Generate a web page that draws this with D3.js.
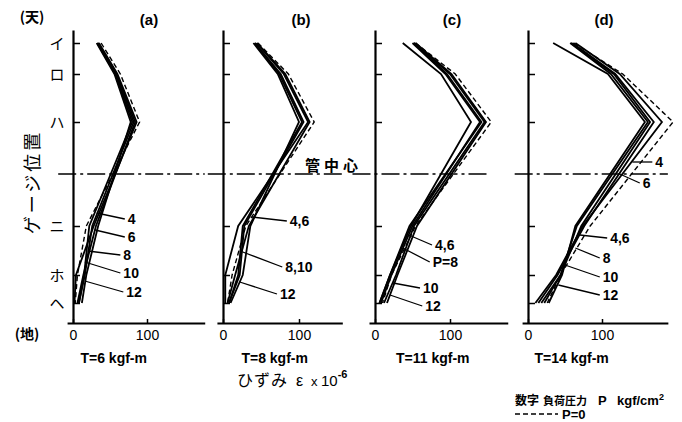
<!DOCTYPE html>
<html>
<head>
<meta charset="utf-8" />
<script src="https://d3js.org/d3.v7.min.js"></script>
<style>
  body { margin: 0; background: #fff; }
  text { font-family: "Liberation Sans", Arial, sans-serif; fill: #000; }
  .jp { font-family: "Noto Sans CJK JP", sans-serif; }
</style>
</head>
<body>
<svg id="chart"></svg>
<script>
// ---- data ----
const panels = ["(a)", "(b)", "(c)", "(d)"];
const torques = ["T=6 kgf-m", "T=8 kgf-m", "T=11 kgf-m", "T=14 kgf-m"];
const gauges = ["イ", "ロ", "ハ", "ニ", "ホ", "ヘ"];
const gaugeHeight = [280, 249, 201, 97, 48, 20];   // height above ground (地 = 0, 天 = 293)
const centerHeight = 149;                            // 管中心
const topHeight = 293;
const pressures = [0, 4, 6, 8, 10, 12];              // P kgf/cm2, P=0 is dashed
const xTicks = [0, 100];
const axisMax = [178, 157, 177, 189];

// strain x10^-6 at イ ロ ハ ニ ホ ヘ, one row per pressure
const strainA = [
  [38, 64, 90, 18, 6, 3],
  [35, 60, 86, 28, 4, 2],
  [34, 59, 84, 31, 14, 6],
  [33, 58, 82, 26, 16, 8],
  [33, 57, 80, 22, 15, 8],
  [32, 56, 78, 34, 18, 12]
];
const strainB = [
  [46, 86, 120, 30, 12, 6],
  [44, 80, 112, 20, 3, 3],
  [45, 82, 114, 34, 16, 6],
  [42, 76, 106, 28, 22, 8],
  [42, 74, 104, 26, 20, 8],
  [40, 72, 100, 36, 26, 10]
];
const strainC = [
  [54, 107, 155, 54, 22, 10],
  [37, 88, 128, 48, 20, 6],
  [50, 94, 140, 50, 22, 8],
  [52, 96, 142, 46, 20, 6],
  [52, 100, 146, 52, 28, 12],
  [54, 102, 148, 56, 30, 16]
];
const strainD = [
  [62, 128, 196, 84, 44, 26],
  [64, 124, 181, 74, 38, 10],
  [60, 118, 170, 76, 40, 14],
  [58, 116, 165, 72, 44, 18],
  [57, 112, 162, 66, 44, 22],
  [34, 108, 158, 64, 46, 28]
];
const strains = [strainA, strainB, strainC, strainD];

// pressure labels: [text, from strain, from height, to strain, to height]
const notesA = [["4", 32, 110, 70, 104], ["6", 30, 93, 70, 86], ["8", 20, 72, 64, 68],
                ["10", 16, 61, 64, 50], ["12", 16, 42, 68, 31]];
const notesB = [["4,6", 38, 106, 84, 102], ["8,10", 26, 71, 78, 56], ["12", 22, 41, 71, 29]];
const notesC = [["4,6", 45, 88, 76, 78], ["P=8", 37, 75, 73, 61], ["10", 24, 40, 60, 35],
                ["12", 20, 28, 63, 17]];
const notesD = [["4", 141, 161, 168, 161], ["6", 124, 149, 151, 140], ["4,6", 70, 88, 107, 85],
                ["8", 64, 75, 97, 65], ["10", 50, 58, 97, 46], ["12", 41, 38, 97, 28]];
const notes = [notesA, notesB, notesC, notesD];

// ---- layout ----
const W = 682, H = 422;
const axisX = [73, 223, 375, 528];
const x100 = [147, 299, 450, 602];
const centerSpan = [[-20, 178], [-20, 160], [-30, 150], [-18, 189]];
const torqueAt = [55, 68, 77, 59];   // strain under which each T label is centred

const svg = d3.select("#chart").attr("width", W).attr("height", H);
svg.append("rect").attr("width", W).attr("height", H).attr("fill", "#fff");

const y = d3.scaleLinear().domain([0, topHeight]).range([323, 30]);

const line = d3.line().x(d => d[0]).y(d => d[1]);

panels.forEach(function (name, i) {
  const x = d3.scaleLinear().domain([0, 100]).range([axisX[i], x100[i]]);
  const g = svg.append("g");

  // x axis
  const xa = d3.scaleLinear().domain([-8, axisMax[i]]).range([x(-8), x(axisMax[i])]);
  const gx = g.append("g").attr("transform", "translate(0," + y(0) + ")")
    .call(d3.axisBottom(xa).tickValues(xTicks).tickSize(-4).tickSizeOuter(0).tickPadding(7));
  gx.select(".domain").attr("stroke-width", 2.2);
  gx.selectAll(".tick line").attr("stroke-width", 1.5);
  gx.selectAll(".tick text").style("font-size", "14px").style("font-family", "Liberation Sans, Arial, sans-serif");

  // y axis
  const gy = g.append("g").attr("transform", "translate(" + x(0) + ",0)")
    .call(d3.axisRight(y).tickValues(gaugeHeight).tickSize(7).tickSizeOuter(0).tickFormat(""));
  gy.select(".domain").attr("stroke-width", 2.2);
  gy.selectAll(".tick line").attr("stroke-width", 1.5);

  // pipe centre line
  g.append("line")
    .attr("x1", x(centerSpan[i][0])).attr("x2", x(centerSpan[i][1]))
    .attr("y1", y(centerHeight)).attr("y2", y(centerHeight))
    .attr("stroke", "#000").attr("stroke-width", 1.6)
    .attr("stroke-dasharray", "18,4,3,4");

  // strain lines, solid first, dashed P=0 on top
  const rows = strains[i];
  for (let p = rows.length - 1; p >= 0; p--) {
    const pts = rows[p].map((v, k) => [x(v), y(gaugeHeight[k])]);
    g.append("path").attr("d", line(pts))
      .attr("fill", "none").attr("stroke", "#000")
      .attr("stroke-width", pressures[p] === 0 ? 1.4 : 1.8)
      .attr("stroke-dasharray", pressures[p] === 0 ? "5,3" : null)
      .attr("stroke-linejoin", "miter");
  }

  // pressure labels with leaders
  notes[i].forEach(function (n) {
    g.append("line")
      .attr("x1", x(n[1])).attr("y1", y(n[2]))
      .attr("x2", x(n[3])).attr("y2", y(n[4]))
      .attr("stroke", "#000").attr("stroke-width", 1.3);
    g.append("text").attr("x", x(n[3]) + 3).attr("y", y(n[4]) + 5)
      .style("font-size", "14px").style("font-weight", "bold").text(n[0]);
  });

  // titles
  g.append("text").attr("x", x(100) + 2).attr("y", 25).attr("text-anchor", "middle")
    .style("font-size", "15px").style("font-weight", "bold").text(name);
  g.append("text").attr("x", x(torqueAt[i])).attr("y", 363).attr("text-anchor", "middle")
    .style("font-size", "14px").style("font-weight", "bold").text(torques[i]);
});

// gauge names
svg.selectAll(".gname").data(gauges).enter().append("text")
  .attr("class", "jp").attr("x", 57).attr("y", (d, k) => y(gaugeHeight[k]) + 6)
  .attr("text-anchor", "middle").style("font-size", "15px").text(d => d);

svg.append("text").attr("class", "jp").attr("x", 32).attr("y", 22).attr("text-anchor", "middle")
  .style("font-size", "14px").style("font-weight", "bold").text("(天)");
svg.append("text").attr("class", "jp").attr("x", 27).attr("y", 339).attr("text-anchor", "middle")
  .style("font-size", "14px").style("font-weight", "bold").text("(地)");
svg.append("text").attr("class", "jp")
  .attr("transform", "translate(39,182) rotate(-90)").attr("text-anchor", "middle")
  .style("font-size", "18px").style("letter-spacing", "3px").text("ゲージ位置");

svg.append("text").attr("class", "jp").attr("x", 305).attr("y", 171)
  .style("font-size", "15px").style("font-weight", "bold").style("letter-spacing", "4px").text("管中心");

// x label
svg.append("text").attr("class", "jp").attr("x", 237).attr("y", 386)
  .style("font-size", "16px").style("letter-spacing", "1px").text("ひずみ");
svg.append("text").attr("x", 296).attr("y", 386).style("font-size", "16px").text("ε");
svg.append("text").attr("x", 311).attr("y", 386).style("font-size", "13px").text("x");
const ten = svg.append("text").attr("x", 321).attr("y", 386).style("font-size", "15px");
ten.append("tspan").text("10");
ten.append("tspan").attr("dy", -8).style("font-size", "11px").style("font-weight", "bold").text("-6");

// legend
svg.append("text").attr("class", "jp").attr("x", 515).attr("y", 405)
  .style("font-size", "12px").style("font-weight", "bold").text("数字");
svg.append("text").attr("class", "jp").attr("x", 543).attr("y", 405)
  .style("font-size", "11px").style("font-weight", "bold").text("負荷圧力");
svg.append("text").attr("x", 598).attr("y", 405)
  .style("font-size", "13px").style("font-weight", "bold").text("P");
const unit = svg.append("text").attr("x", 617).attr("y", 405)
  .style("font-size", "13px").style("font-weight", "bold");
unit.append("tspan").text("kgf/cm");
unit.append("tspan").attr("dy", -5).style("font-size", "9px").text("2");
svg.append("line").attr("x1", 515).attr("x2", 558).attr("y1", 414).attr("y2", 414)
  .attr("stroke", "#000").attr("stroke-width", 1.4).attr("stroke-dasharray", "5,3");
svg.append("text").attr("x", 562).attr("y", 419).style("font-size", "13px").style("font-weight", "bold").text("P=0");
</script>
</body>
</html>
